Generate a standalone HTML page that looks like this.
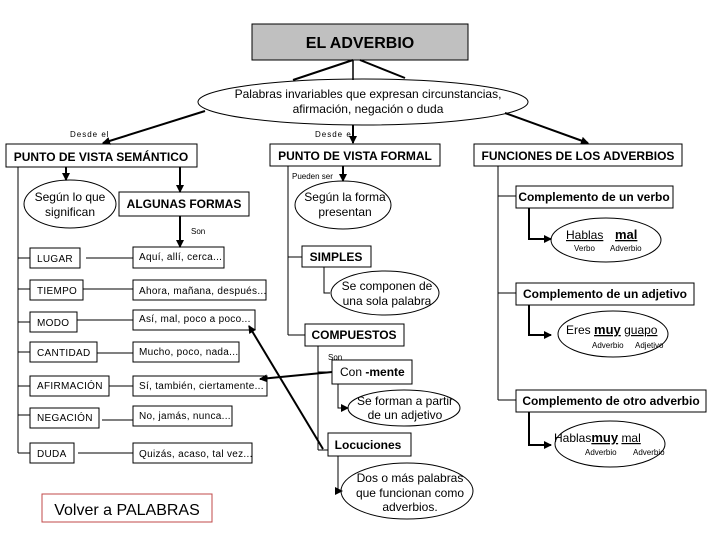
<!DOCTYPE html>
<html><head><meta charset="utf-8"><style>
body{margin:0;background:#fff}
svg{display:block;font-family:"Liberation Sans",Arial,sans-serif}
.b{font-weight:bold}
</style></head><body>
<svg width="720" height="540" viewBox="0 0 720 540" xmlns="http://www.w3.org/2000/svg">
<defs><marker id="a" markerWidth="8" markerHeight="8" refX="7" refY="4" orient="auto" markerUnits="userSpaceOnUse"><path d="M0,0 L8,4 L0,8 z" fill="#000"/></marker></defs>
<g fill="none" stroke="#000" stroke-width="1">
<rect x="252" y="24" width="216" height="36" fill="#c0c0c0"/>
<ellipse cx="363" cy="102" rx="165" ry="23" fill="#fff"/>
<line x1="353" y1="60" x2="293" y2="80" stroke-width="2"/>
<line x1="353" y1="60" x2="353" y2="80" stroke-width="1.5"/>
<line x1="360" y1="60" x2="405" y2="78" stroke-width="2"/>
<line x1="205" y1="111" x2="103" y2="143" stroke-width="2" marker-end="url(#a)"/>
<line x1="353" y1="125" x2="353" y2="143" stroke-width="2" marker-end="url(#a)"/>
<line x1="505" y1="113" x2="588" y2="143" stroke-width="2" marker-end="url(#a)"/>
<rect x="6" y="144" width="191" height="23"/>
<rect x="270" y="144" width="170" height="22"/>
<rect x="474" y="144" width="208" height="22"/>
<line x1="18" y1="167" x2="18" y2="453"/>
<line x1="66" y1="167" x2="66" y2="180" stroke-width="2" marker-end="url(#a)"/>
<ellipse cx="70" cy="204" rx="46" ry="24"/>
<line x1="180" y1="167" x2="180" y2="192" stroke-width="2" marker-end="url(#a)"/>
<rect x="119" y="192" width="130" height="24"/>
<line x1="180" y1="216" x2="180" y2="247" stroke-width="2" marker-end="url(#a)"/>
<rect x="30" y="248" width="50" height="20"/><rect x="133" y="247" width="91" height="21"/>
<rect x="30" y="280" width="53" height="20"/><rect x="133" y="280" width="133" height="20"/>
<rect x="30" y="312" width="47" height="20"/><rect x="133" y="310" width="122" height="20"/>
<rect x="30" y="342" width="67" height="20"/><rect x="133" y="342" width="106" height="20"/>
<rect x="30" y="376" width="79" height="20"/><rect x="133" y="376" width="134" height="20"/>
<rect x="30" y="408" width="69" height="20"/><rect x="133" y="406" width="99" height="20"/>
<rect x="30" y="443" width="44" height="20"/><rect x="133" y="443" width="119" height="20"/>
<path d="M18 258H30M18 289H30M18 322H30M18 352H30M18 386H30M18 415H30M18 453H30"/>
<path d="M86 258H133M83 289H133M77 320H133M97 355V353H133M109 386H133M102 420H133M78 453H133"/>
<rect x="42" y="494" width="170" height="28" stroke="#c04848"/>
<line x1="288" y1="166" x2="288" y2="335"/>
<line x1="343" y1="166" x2="343" y2="181" stroke-width="2" marker-end="url(#a)"/>
<ellipse cx="343" cy="205" rx="48" ry="24"/>
<rect x="302" y="246" width="69" height="21"/>
<path d="M288 257H302M288 335H305"/>
<path d="M324 267V293H330"/>
<ellipse cx="385" cy="293" rx="54" ry="22"/>
<rect x="305" y="324" width="99" height="22"/>
<line x1="318" y1="346" x2="318" y2="450"/>
<path d="M318 372H332M318 450H328"/>
<rect x="332" y="360" width="80" height="24"/>
<rect x="328" y="433" width="83" height="23"/>
<path d="M338 384V408H348" marker-end="url(#a)"/>
<ellipse cx="404" cy="408" rx="56" ry="18"/>
<path d="M338 456V491H342" marker-end="url(#a)"/>
<ellipse cx="407" cy="491" rx="66" ry="28"/>
<line x1="323" y1="449" x2="249" y2="326" stroke-width="2" marker-end="url(#a)"/>
<line x1="332" y1="372" x2="260" y2="379" stroke-width="2" marker-end="url(#a)"/>
<line x1="498" y1="166" x2="498" y2="400"/>
<path d="M498 196H516M498 293H516M498 400H516"/>
<rect x="516" y="186" width="157" height="22"/>
<path d="M529 208V239H551" stroke-width="2" marker-end="url(#a)"/>
<ellipse cx="606" cy="240" rx="55" ry="22"/>
<rect x="516" y="283" width="178" height="22"/>
<path d="M529 305V335H551" stroke-width="2" marker-end="url(#a)"/>
<ellipse cx="613" cy="334" rx="55" ry="23"/>
<rect x="516" y="390" width="190" height="22"/>
<path d="M529 412V445H551" stroke-width="2" marker-end="url(#a)"/>
<ellipse cx="610" cy="444" rx="55" ry="23"/>
</g>
<g fill="#000" font-size="12">
<text x="360" y="48" text-anchor="middle" class="b" font-size="16">EL ADVERBIO</text>
<text x="368" y="98" text-anchor="middle">Palabras invariables que expresan circunstancias,</text>
<text x="368" y="113" text-anchor="middle">afirmación, negación o duda</text>
<text x="70" y="137" font-size="8" letter-spacing="1">Desde el</text>
<text x="315" y="137" font-size="8" letter-spacing="1">Desde el</text>
<text x="101" y="161" text-anchor="middle" class="b">PUNTO DE VISTA SEMÁNTICO</text>
<text x="355" y="160" text-anchor="middle" class="b">PUNTO DE VISTA FORMAL</text>
<text x="578" y="160" text-anchor="middle" class="b">FUNCIONES DE LOS ADVERBIOS</text>
<text x="70" y="201" text-anchor="middle">Según lo que</text>
<text x="70" y="216" text-anchor="middle">significan</text>
<text x="184" y="208" text-anchor="middle" class="b">ALGUNAS FORMAS</text>
<text x="191" y="234" font-size="8">Son</text>
<g font-size="10" letter-spacing="0.3">
<text x="37" y="262">LUGAR</text><text x="139" y="260">Aquí, allí, cerca...</text>
<text x="37" y="294">TIEMPO</text><text x="139" y="294">Ahora, mañana, después...</text>
<text x="37" y="326">MODO</text><text x="139" y="322">Así, mal, poco a poco...</text>
<text x="37" y="356">CANTIDAD</text><text x="139" y="355">Mucho, poco, nada...</text>
<text x="37" y="389">AFIRMACIÓN</text><text x="139" y="389">Sí, también, ciertamente...</text>
<text x="37" y="421">NEGACIÓN</text><text x="139" y="419">No, jamás, nunca...</text>
<text x="37" y="457">DUDA</text><text x="139" y="457">Quizás, acaso, tal vez...</text>
</g>
<text x="127" y="515" text-anchor="middle" font-size="16">Volver a PALABRAS</text>
<text x="292" y="179" font-size="8">Pueden ser</text>
<text x="345" y="201" text-anchor="middle">Según la forma</text>
<text x="345" y="216" text-anchor="middle">presentan</text>
<text x="336" y="261" text-anchor="middle" class="b">SIMPLES</text>
<text x="387" y="290" text-anchor="middle">Se componen de</text>
<text x="387" y="305" text-anchor="middle">una sola palabra</text>
<text x="354" y="339" text-anchor="middle" class="b">COMPUESTOS</text>
<text x="328" y="360" font-size="8">Son</text>
<text x="340" y="376">Con <tspan class="b">-mente</tspan></text>
<text x="405" y="405" text-anchor="middle">Se forman a partir</text>
<text x="405" y="419" text-anchor="middle">de un adjetivo</text>
<text x="368" y="449" text-anchor="middle" class="b">Locuciones</text>
<text x="410" y="482" text-anchor="middle">Dos o más palabras</text>
<text x="410" y="497" text-anchor="middle">que funcionan como</text>
<text x="410" y="511" text-anchor="middle">adverbios.</text>
<text x="594" y="201" text-anchor="middle" class="b">Complemento de un verbo</text>
<text x="566" y="239" text-decoration="underline">Hablas</text>
<text x="615" y="239" class="b" font-size="13" text-decoration="underline">mal</text>
<text x="574" y="251" font-size="8">Verbo</text><text x="610" y="251" font-size="8">Adverbio</text>
<text x="605" y="298" text-anchor="middle" class="b">Complemento de un adjetivo</text>
<text x="566" y="334">Eres <tspan class="b" font-size="13" text-decoration="underline">muy</tspan> <tspan text-decoration="underline">guapo</tspan></text>
<text x="592" y="348" font-size="8">Adverbio</text><text x="635" y="348" font-size="8">Adjetivo</text>
<text x="611" y="405" text-anchor="middle" class="b">Complemento de otro adverbio</text>
<text x="554" y="442">Hablas<tspan class="b" font-size="13" text-decoration="underline">muy</tspan>  <tspan text-decoration="underline">mal</tspan></text>
<text x="585" y="455" font-size="8">Adverbio</text><text x="633" y="455" font-size="8">Adverbio</text>
</g>
</svg>
</body></html>
